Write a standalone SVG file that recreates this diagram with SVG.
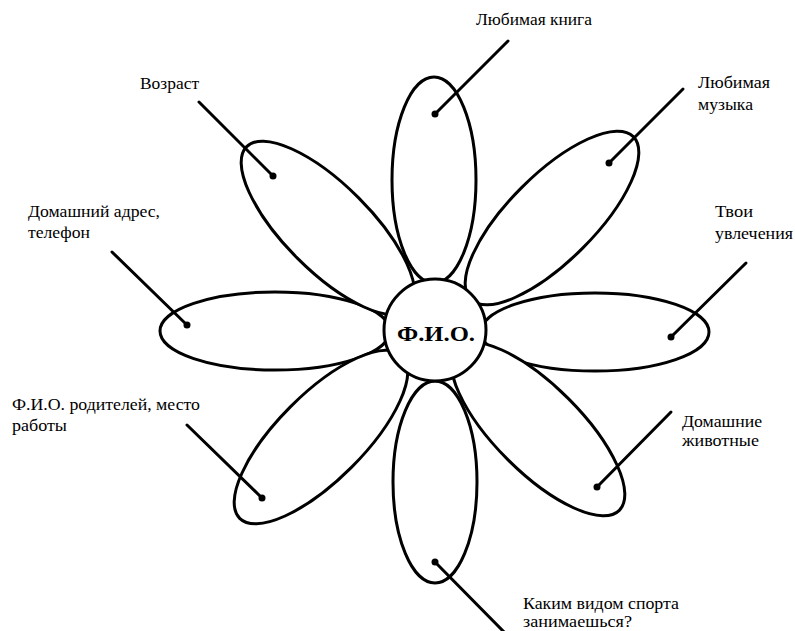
<svg xmlns="http://www.w3.org/2000/svg" width="795" height="631" viewBox="0 0 795 631">
<style>
.petal{fill:#fff;stroke:#000;stroke-width:3}
.lbl{font-family:'Liberation Serif','Times New Roman','DejaVu Serif',serif;font-size:17px;fill:#000}
.fio{font-family:'Liberation Serif','Times New Roman','DejaVu Serif',serif;font-size:21px;font-weight:bold;fill:#000}
.conn line{stroke:#000;stroke-width:3;stroke-linecap:round}
.conn circle{fill:#000}
</style>
<rect width="795" height="631" fill="#fff"/>
<g id="petals">
<ellipse id="petal-top" class="petal" cx="434" cy="180" rx="42" ry="103"/>
<ellipse id="petal-bottom" class="petal" cx="435" cy="482" rx="42" ry="101"/>
<ellipse id="petal-left" class="petal" cx="275" cy="331" rx="115" ry="39"/>
<ellipse id="petal-right" class="petal" cx="595" cy="332" rx="114" ry="39"/>
<ellipse id="petal-ul" class="petal" cx="0" cy="0" rx="115" ry="43" transform="translate(328 228) rotate(45)"/>
<ellipse id="petal-ur" class="petal" cx="0" cy="0" rx="115" ry="43" transform="translate(552 218) rotate(-45)"/>
<ellipse id="petal-ll" class="petal" cx="0" cy="0" rx="115" ry="43" transform="translate(321 437) rotate(-45)"/>
<ellipse id="petal-lr" class="petal" cx="0" cy="0" rx="115" ry="43" transform="translate(538 429) rotate(45)"/>
</g>
<g id="center">
<circle class="petal" cx="435" cy="330" r="51"/>
<text class="fio" x="397" y="341" textLength="78" lengthAdjust="spacingAndGlyphs">Ф.И.О.</text>
</g>
<g class="conn" id="connectors">
<line x1="508" y1="41" x2="435" y2="114"/><circle cx="435" cy="114" r="3.5"/>
<line x1="199" y1="102" x2="273" y2="176"/><circle cx="273" cy="176" r="3.5"/>
<line x1="683" y1="89" x2="609" y2="163"/><circle cx="609" cy="163" r="3.5"/>
<line x1="112" y1="252" x2="187" y2="325"/><circle cx="187" cy="325" r="3.5"/>
<line x1="746" y1="263" x2="671" y2="337"/><circle cx="671" cy="337" r="3.5"/>
<line x1="187" y1="425" x2="262" y2="498"/><circle cx="262" cy="498" r="3.5"/>
<line x1="671" y1="412" x2="597" y2="487"/><circle cx="597" cy="487" r="3.5"/>
<line x1="435" y1="562" x2="506" y2="634"/><circle cx="435" cy="562" r="3.5"/>
</g>
<g id="label-book"><text class="lbl" x="476" y="25" textLength="116" lengthAdjust="spacingAndGlyphs">Любимая книга</text></g>
<g id="label-age"><text class="lbl" x="140" y="89" textLength="59" lengthAdjust="spacingAndGlyphs">Возраст</text></g>
<g id="label-music"><text class="lbl" x="698" y="88" textLength="72" lengthAdjust="spacingAndGlyphs">Любимая</text><text class="lbl" x="698" y="110" textLength="55" lengthAdjust="spacingAndGlyphs">музыка</text></g>
<g id="label-address"><text class="lbl" x="28" y="217" textLength="132" lengthAdjust="spacingAndGlyphs">Домашний адрес,</text><text class="lbl" x="28" y="238" textLength="62" lengthAdjust="spacingAndGlyphs">телефон</text></g>
<g id="label-hobby"><text class="lbl" x="715" y="217" textLength="38" lengthAdjust="spacingAndGlyphs">Твои</text><text class="lbl" x="715" y="239" textLength="78" lengthAdjust="spacingAndGlyphs">увлечения</text></g>
<g id="label-parents"><text class="lbl" x="12" y="410" textLength="188" lengthAdjust="spacingAndGlyphs">Ф.И.О. родителей, место</text><text class="lbl" x="12" y="431" textLength="55" lengthAdjust="spacingAndGlyphs">работы</text></g>
<g id="label-pets"><text class="lbl" x="682" y="427" textLength="80" lengthAdjust="spacingAndGlyphs">Домашние</text><text class="lbl" x="682" y="446" textLength="77" lengthAdjust="spacingAndGlyphs">животные</text></g>
<g id="label-sport"><text class="lbl" x="523" y="609" textLength="156" lengthAdjust="spacingAndGlyphs">Каким видом спорта</text><text class="lbl" x="523" y="627" textLength="109" lengthAdjust="spacingAndGlyphs">занимаешься?</text></g>
</svg>
